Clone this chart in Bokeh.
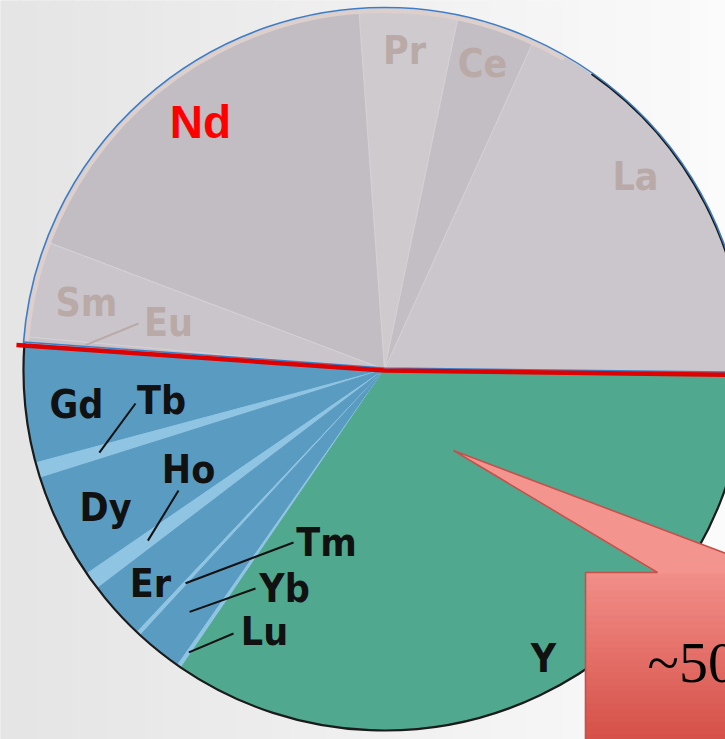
import numpy as np
from bokeh.plotting import figure
from bokeh.models import Range1d, ColumnDataSource
from bokeh.core.properties import value
from bokeh.embed import file_html
from bokeh.resources import INLINE

# Rare earth element shares (percent of total oxide content)
elements = ["La", "Ce", "Pr", "Nd", "Sm", "Eu", "Gd", "Tb", "Dy", "Ho",
            "Er", "Tm", "Yb", "Lu", "Y"]
share_pct = [18.4, 3.5, 4.4, 18.1, 4.3, 0.3, 5.3, 0.7, 4.7, 0.8,
             2.6, 0.2, 2.1, 0.2, 34.3]
light_ree = ["La", "Ce", "Pr", "Nd", "Sm", "Eu"]
callout_label = "~50%"

# ---- layout / style -------------------------------------------------------
W, H = 725, 739
CX, CY = 384, -369          # pie centre (y axis points up, top of page = 0)
R = 361
START_DEG = -0.7

fill = {
    "La": "#cbc6cb", "Ce": "#c3bec4", "Pr": "#cfcacd", "Nd": "#c2bdc3",
    "Sm": "#cac5ca", "Eu": "#c6c1c6",
    "Gd": "#5a9bc2", "Tb": "#8fc4e2", "Dy": "#5a9bc2", "Ho": "#8fc4e2",
    "Er": "#5a9bc2", "Tm": "#8fc4e2", "Yb": "#5a9bc2", "Lu": "#8fc4e2",
    "Y": "#50a98f",
}
LIGHT_TXT = "#b9aaa8"
DARK_TXT = "#111111"
COND_FONT = "'DejaVu Sans Condensed', 'Liberation Sans Narrow', 'Roboto', sans-serif"

# label placement: element -> (x, y) in page pixels
label_pos = {
    "La": (635, 176), "Ce": (482, 63), "Pr": (404, 50), "Nd": (200, 121),
    "Sm": (86, 302), "Eu": (168, 322), "Gd": (76, 404), "Tb": (161, 400),
    "Dy": (105, 507), "Ho": (188, 469), "Er": (150, 583), "Tm": (326, 542),
    "Yb": (284, 588), "Lu": (264, 631), "Y": (543, 658),
}
# leader lines: element -> (outer end in page pixels, radius of inner end)
leaders = {
    "Eu": ((138, 323), 300), "Tb": ((135, 403), 297), "Ho": ((178, 490), 292),
    "Tm": ((293, 542), 292), "Yb": ((255, 588), 311), "Lu": ((233, 633), 344),
}

# ---- slice geometry ----------------------------------------------------------
share = np.array(share_pct, dtype=float)
frac = share / share.sum()
start0 = np.deg2rad(START_DEG)
ends = start0 + np.cumsum(frac) * 2 * np.pi
starts = ends - frac * 2 * np.pi
mids = (starts + ends) / 2

n_light = len(light_ree)
light_end = ends[n_light - 1]

src = ColumnDataSource(dict(
    element=elements,
    start=starts,
    end=ends,
    color=[fill[e] for e in elements],
    line=["#d5d0d4" if e in light_ree else fill[e] for e in elements],
))

p = figure(width=W, height=H, x_range=Range1d(0, W), y_range=Range1d(-H, 0),
           output_backend="svg", toolbar_location=None,
           x_axis_location=None, y_axis_location=None,
           min_border=0, outline_line_color=None,
           background_fill_color="#f4f4f4", border_fill_color="#f4f4f4")
p.grid.visible = False

# soft horizontal background shading
xs = np.linspace(0, W, 41)
lo = np.array([229, 229, 229])
hi = np.array([251, 251, 251])
t = np.linspace(0, 1, len(xs) - 1)
bg_cols = ["#%02x%02x%02x" % tuple((lo + (hi - lo) * v).astype(int)) for v in t]
p.quad(left=xs[:-1], right=xs[1:] + 1.5, top=0, bottom=-H, fill_color=bg_cols,
       line_color=bg_cols, line_width=1)

# pie slices
p.wedge(x=CX, y=CY, radius=R, start_angle="start", end_angle="end",
        fill_color="color", line_color="line", line_width=1, source=src)

# dark rim of the pie
p.arc(x=CX, y=CY, radius=R, start_angle=light_end, end_angle=np.deg2rad(55),
      line_color="#1b1b1b", line_width=2.2)

# light rim and blue outline around the light-REE half
p.arc(x=CX, y=CY, radius=R - 2.5, start_angle=np.deg2rad(60), end_angle=light_end,
      line_color="#ddcfcc", line_width=4)
p.arc(x=CX, y=CY, radius=R + 1, start_angle=start0, end_angle=light_end,
      line_color="#3f7cc3", line_width=1.6)
blue_x = [CX + (R + 1) * np.cos(light_end), CX, CX + 400 * np.cos(start0)]
blue_y = [CY + (R + 1) * np.sin(light_end) + 1.5, CY + 1.5, CY + 400 * np.sin(start0) + 1.5]
p.line(blue_x, blue_y, line_color="#3f7cc3", line_width=1.6)

# red divider between light and heavy groups
red_x = [CX + (R + 8) * np.cos(light_end), CX, CX + 400 * np.cos(start0)]
red_y = [CY + (R + 8) * np.sin(light_end) - 2, CY - 1, CY + 400 * np.sin(start0) - 1]
p.line(red_x, red_y, line_color="#e00000", line_width=4.5)

# leader lines
for e, ((ox, oy), rad) in leaders.items():
    i = elements.index(e)
    ix = CX + rad * np.cos(mids[i])
    iy = CY + rad * np.sin(mids[i])
    col = LIGHT_TXT if e in light_ree else DARK_TXT
    p.line([ix, ox], [iy, -oy], line_color=col, line_width=2)

# slice labels
for e in elements:
    x, y = label_pos[e]
    if e == "Nd":
        p.text(x=[x], y=[-y], text=[e], text_color="#ff0000",
               text_font=value("Liberation Sans"), text_font_style="bold",
               text_font_size="46px", text_align="center", text_baseline="middle")
    else:
        p.text(x=[x], y=[-y], text=[e],
               text_color=LIGHT_TXT if e in light_ree else DARK_TXT,
               text_font=value(COND_FONT), text_font_style="bold",
               text_font_size="39px", text_align="center", text_baseline="middle")

# callout box with pointer
BX, BY = 585, 572
tip = (453, 450)
ys = np.linspace(BY, 760, 31)
top_c = np.array([242, 142, 136])
bot_c = np.array([211, 74, 66])
g = np.linspace(0, 1, len(ys) - 1)
box_cols = ["#%02x%02x%02x" % tuple((top_c + (bot_c - top_c) * v).astype(int)) for v in g]
p.quad(left=BX, right=760, top=-ys[:-1], bottom=-ys[1:] - 1.5,
       fill_color=box_cols, line_color=box_cols, line_width=1)
p.patch([657, tip[0], 760, 760], [-BY - 1, -tip[1], -566, -BY - 1],
        fill_color="#f4948e", line_color=None)
p.line([BX, BX, 657, tip[0], 760], [-760, -BY, -BY, -tip[1], -566],
       line_color="#c4524c", line_width=1.6)
p.text(x=[647], y=[-662], text=[callout_label], text_color="#000000",
       text_font=value("Liberation Serif"), text_font_size="58px",
       text_align="left", text_baseline="alphabetic")

open("out.html", "w").write(file_html(p, INLINE))
